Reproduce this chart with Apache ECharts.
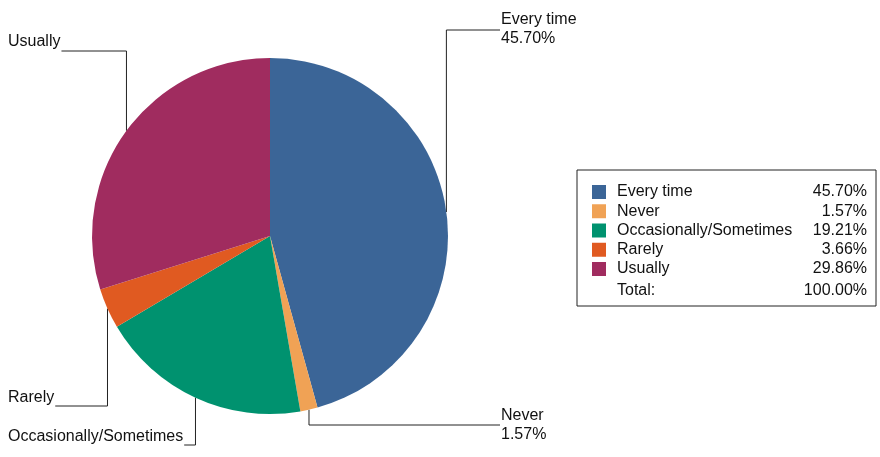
<!DOCTYPE html>
<html>
<head>
<meta charset="utf-8">
<script src="https://cdn.jsdelivr.net/npm/echarts@6/dist/echarts.min.js"></script>
<style>html,body{margin:0;padding:0;background:#fff;}#main{width:880px;height:457px;}</style>
</head>
<body>
<div id="main"></div>
<script>
const categories = ['Every time', 'Never', 'Occasionally/Sometimes', 'Rarely', 'Usually'];
const values = [45.70, 1.57, 19.21, 3.66, 29.86];
const totalLabel = 'Total:';
const totalValue = '100.00%';
const colors = ['#3B6597', '#F0A255', '#00926F', '#E05A21', '#A02C5F'];

const FONT = '"Liberation Sans", Arial, sans-serif';
const TXT = '#111';

// label layout config: side, label anchor y, line y
const labelCfg = [
  { side: 'right', y: 29, lineY: 30 },
  { side: 'right', y: 425.5, lineY: 425 },
  { side: 'left', y: 437, lineY: 445 },
  { side: 'left', y: 398, lineY: 406 },
  { side: 'left', y: 42, lineY: 51 }
];

const measureCtx = document.createElement('canvas').getContext('2d');
measureCtx.font = '16px ' + FONT;
function textW(t) { return measureCtx.measureText(t).width; }

const chart = echarts.init(document.getElementById('main'), null, { renderer: 'canvas' });

const option = {
  animation: false,
  color: colors,
  textStyle: { fontFamily: FONT },
  legend: {
    orient: 'vertical',
    left: 577,
    top: 170,
    padding: [14, 9, 29, 15],
    borderColor: '#222',
    borderWidth: 1,
    itemWidth: 14,
    itemHeight: 14,
    itemGap: 3.25,
    icon: 'rect',
    selectedMode: false,
    data: categories,
    formatter: function (name) {
      const i = categories.indexOf(name);
      return '{s| }{n|' + name + '}{v|' + values[i].toFixed(2) + '%}';
    },
    textStyle: {
      fontFamily: FONT,
      fontSize: 16,
      color: TXT,
      rich: {
        s: { width: 6, fontSize: 16, fontFamily: FONT },
        n: { width: 190, fontSize: 16, fontFamily: FONT, color: TXT },
        v: { width: 60, align: 'right', fontSize: 16, fontFamily: FONT, color: TXT }
      }
    }
  },
  graphic: [
    {
      type: 'text', x: 617, y: 291, silent: true,
      style: { text: totalLabel, font: '16px ' + FONT, fill: TXT, align: 'left', verticalAlign: 'middle', textAlign: 'left', textVerticalAlign: 'middle' }
    },
    {
      type: 'text', x: 867, y: 291, silent: true,
      style: { text: totalValue, font: '16px ' + FONT, fill: TXT, align: 'right', verticalAlign: 'middle', textAlign: 'right', textVerticalAlign: 'middle' }
    }
  ],
  series: [{
    type: 'pie',
    center: [270, 236],
    radius: 178,
    startAngle: 90,
    clockwise: true,
    silent: true,
    itemStyle: { borderWidth: 0 },
    data: categories.map((c, i) => ({ name: c, value: values[i] })),
    label: {
      show: true,
      position: 'outside',
      fontFamily: FONT,
      fontSize: 16,
      lineHeight: 19,
      color: TXT,
      width: 260,
      overflow: 'none',
      formatter: function (p) {
        if (labelCfg[p.dataIndex].side === 'right') {
          return p.name + '\n' + values[p.dataIndex].toFixed(2) + '%';
        }
        return p.name;
      }
    },
    labelLine: {
      show: true,
      length: 10,
      length2: 10,
      lineStyle: { color: '#222', width: 1 }
    },
    labelLayout: function (params) {
      const cfg = labelCfg[params.dataIndex];
      const pts = params.labelLinePoints;
      const a = pts ? pts[0] : [0, 0];
      if (cfg.side === 'right') {
        return {
          x: 501, y: cfg.y, align: 'left', verticalAlign: 'middle',
          labelLinePoints: [[a[0], a[1]], [a[0], cfg.lineY], [500, cfg.lineY]]
        };
      } else {
        const endX = 8 + textW(categories[params.dataIndex]) + 1;
        return {
          x: 8, y: cfg.y, align: 'left', verticalAlign: 'middle',
          labelLinePoints: [[a[0], a[1]], [a[0], cfg.lineY], [endX, cfg.lineY]]
        };
      }
    }
  }]
};
chart.setOption(option);
</script>
</body>
</html>
